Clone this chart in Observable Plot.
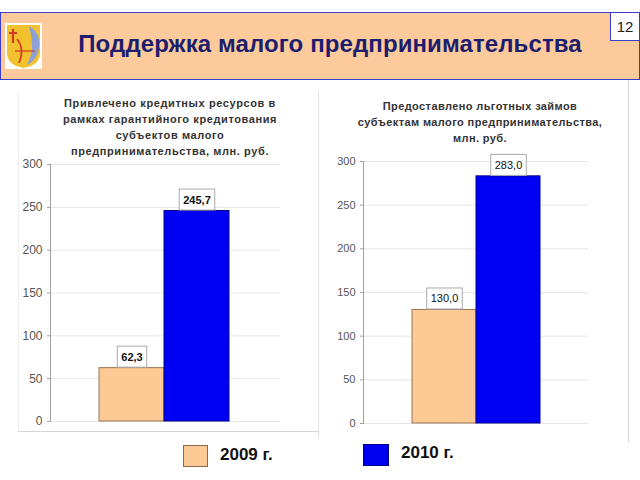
<!DOCTYPE html>
<html><head><meta charset="utf-8">
<script src="https://cdn.jsdelivr.net/npm/d3@7"></script>
<script src="https://cdn.jsdelivr.net/npm/@observablehq/plot@0.6"></script>
<style>
body{margin:0;width:640px;height:480px;position:relative;background:#fff;font-family:"Liberation Sans",Arial,sans-serif;overflow:hidden}
.abs{position:absolute}
#header{left:0;top:12px;width:638px;height:66px;background:#fdcb9b;border:1px solid #3b3bd0;}
#title{left:0;top:30px;width:660px;text-align:center;font-size:24px;font-weight:bold;color:#1d1d6e;white-space:nowrap;letter-spacing:0.1px}
#page{left:610px;top:12px;width:28px;height:27px;background:#fff;border:1px solid #3b3bd0;font-size:15px;text-align:center;line-height:27px;color:#222}
.ctitle{text-align:center;font-size:11px;font-weight:bold;color:#333;letter-spacing:0.6px;line-height:16px;white-space:nowrap}
.leg{font-size:17px;font-weight:bold;color:#111}
</style></head>
<body>
<div id="header" class="abs"></div>
<svg class="abs" style="left:5px;top:23px" width="37" height="46" viewBox="0 0 37 46">
  <rect x="0" y="0" width="37" height="46" fill="#fff"/>
  <path d="M2 2 H35 V30 Q35 42 18.5 45 Q2 42 2 30 Z" fill="#f2c22e"/>
  <path d="M24 3 Q36 10 34 24 Q33 36 22 42 Q28 30 27 20 Q26 10 24 3Z" fill="#8da0d8"/>
  <path d="M8 6 V20 M4 10 H12" stroke="#d23a1d" stroke-width="2.2" fill="none"/>
  <path d="M12 16 Q20 26 14 40" stroke="#d23a1d" stroke-width="1.6" fill="none"/>
  <path d="M10 28 H30" stroke="#d23a1d" stroke-width="1.2"/>
</svg>
<div id="title" class="abs">Поддержка малого предпринимательства</div>
<div id="page" class="abs">12</div>

<div class="abs" style="left:18px;top:92px;width:299px;height:339px;border-right:1px solid #d6d6d6;border-bottom:1px solid #d6d6d6;border-left:1px solid #eee"></div>
<div class="abs" style="left:318px;top:92px;width:1px;height:346px;background:#e2e2e2"></div>
<div class="abs" style="left:628px;top:80px;width:1px;height:362px;background:#d6d6d6"></div>

<div id="t1" class="abs ctitle" style="left:20px;top:95px;width:300px"></div>
<div id="t2" class="abs ctitle" style="left:330px;top:98px;width:300px;letter-spacing:0.4px"></div>

<div id="c1" class="abs" style="left:0px;top:150px"></div>
<div id="c2" class="abs" style="left:318px;top:150px"></div>

<div class="abs" style="left:183px;top:445px;width:23px;height:20px;background:#fdca96;border:1px solid #8a6a4a"></div>
<div class="abs leg" style="left:220px;top:445px">2009 г.</div>
<div class="abs" style="left:363px;top:444px;width:24px;height:20px;background:#0000f0;border:1px solid #00008b"></div>
<div class="abs leg" style="left:401px;top:443px">2010 г.</div>

<script>
const years = ["2009 г.", "2010 г."];
const creditValues = [62.3, 245.7];
const loanValues = [130.0, 283.0];
const yTicks = [0, 50, 100, 150, 200, 250, 300];
const title1 = ["Привлечено кредитных ресурсов в", "рамках гарантийного кредитования", "субъектов малого", "предпринимательства, млн. руб."];
const title2 = ["Предоставлено льготных займов", "субъектам малого предпринимательства,", "млн. руб."];
const fillColors = ["#fdca96", "#0000f5"];
const strokeColors = ["#9a7656", "#00008b"];

document.getElementById("t1").innerHTML = title1.join("<br>");
document.getElementById("t2").innerHTML = title2.join("<br>");

const fmt = v => v.toFixed(1).replace(".", ",");

function makeChart(values, o) {
  const data = years.map((y, i) => ({year: y, value: values[i], i}));
  const svg = Plot.plot({
    width: o.width, height: 285,
    marginLeft: o.ml, marginRight: o.mr, marginTop: o.mt, marginBottom: o.mb,
    style: {fontFamily: "Liberation Sans, Arial, sans-serif", background: "transparent", overflow: "visible"},
    x: {domain: years, range: o.xr, padding: 0, axis: null},
    y: {domain: [0, 300], label: null},
    color: {type: "identity"},
    marks: [
      Plot.gridY({ticks: yTicks, stroke: "#e6e6e6", strokeOpacity: 1}),
      Plot.frame({anchor: "left", stroke: "#a0a0a0"}),
      Plot.axisY({ticks: yTicks, tickSize: 3, tickPadding: 5, stroke: "#a0a0a0", fill: "#555", fontSize: o.tickFont, label: null}),
      Plot.barY(data, {x: "year", y: "value", fill: d => fillColors[d.i], stroke: d => strokeColors[d.i], strokeWidth: 1}),
      Plot.text(data, {x: "year", y: "value", text: d => fmt(d.value), dy: -11, fontSize: 11, fontWeight: o.labelWeight, fill: "#111"})
    ]
  });
  document.getElementById(o.id).append(svg);
  const groups = svg.querySelectorAll('g[aria-label="text"]');
  const g = groups[groups.length - 1];
  g.querySelectorAll("text").forEach(t => {
    const b = t.getBBox();
    const cy = b.y + b.height / 2;
    const cx = b.x + b.width / 2;
    const w = b.width + 8;
    const r = document.createElementNS("http://www.w3.org/2000/svg", "rect");
    const tr = t.getAttribute("transform");
    if (tr) r.setAttribute("transform", tr);
    r.setAttribute("x", cx - w / 2);
    r.setAttribute("y", cy - 10.5);
    r.setAttribute("width", w);
    r.setAttribute("height", 21);
    r.setAttribute("fill", "#fff");
    r.setAttribute("stroke", "#aaa");
    g.insertBefore(r, t);
  });
}

makeChart(creditValues, {id: "c1", width: 318, ml: 50, mr: 38, mt: 14, mb: 14, xr: [99, 229], tickFont: 12, labelWeight: "bold"});
makeChart(loanValues, {id: "c2", width: 300, ml: 45, mr: 30, mt: 11, mb: 12, xr: [93, 222], tickFont: 11, labelWeight: "normal"});
</script>
</body></html>
